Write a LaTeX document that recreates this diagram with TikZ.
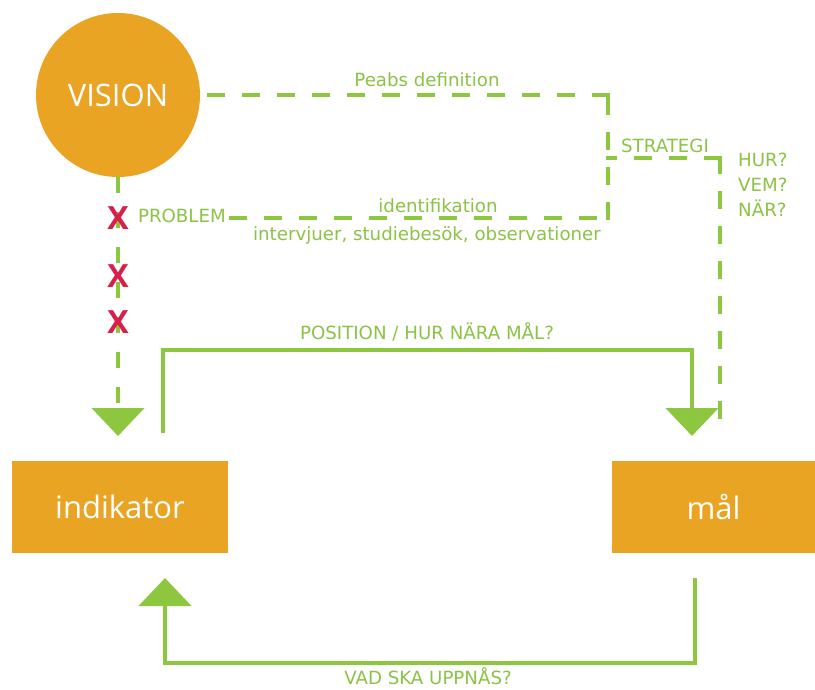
\documentclass[tikz,border=0pt]{standalone}
\usepackage{fontspec}
\setmainfont{DejaVu Sans}
\newfontfamily\boxfont{Open Sans}
\usetikzlibrary{arrows.meta}
\definecolor{vorange}{RGB}{233,164,35}
\definecolor{vgreen}{RGB}{141,198,63}
\definecolor{vtext}{RGB}{140,195,70}
\definecolor{vred}{RGB}{216,31,75}
\begin{document}
\begin{tikzpicture}[x=1pt,y=-1pt,
  bigbox/.style={fill=vorange, draw=none, text=white, font=\boxfont\fontsize{31}{36}\selectfont, inner sep=0pt},
  lbl/.style={text=vtext, font=\fontsize{18.2}{25}\selectfont, inner sep=0pt},
  dashline/.style={draw=vgreen, line width=4.6pt, dash pattern=on 14pt off 21pt, line cap=rect},
  solidline/.style={draw=vgreen, line width=4.6pt},
  bigtip/.style={-{Triangle[width=52pt,length=28pt]}},
  xmark/.style={text=vred, font=\boxfont\bfseries\fontsize{32}{32}\selectfont, inner sep=0pt}
]
\useasboundingbox (0,0) rectangle (815,690);
\fill[white] (0,0) rectangle (815,690);

% main nodes
\node[bigbox, circle, minimum size=164pt] (vision) at (118,95) {VISION};
\node[bigbox, minimum width=216pt, minimum height=92pt] (ind) at (120,507) {indikator};
\node[bigbox, minimum width=203pt, minimum height=92pt] (mal) at (713.5,507) {mål};

% labels
\node[lbl] (peabs) at (427,80) {Peabs definition};
\node[lbl, anchor=east] (problem) at (226,216) {PROBLEM};
\node[lbl] (ident) at (438,206) {identifikation};
\node[lbl] (interv) at (427,235) {intervjuer, studiebesök, observationer};
\node[lbl] (strat) at (665,146) {STRATEGI};
\node[lbl, align=left, anchor=north west] (hur) at (738,153) {HUR?\\VEM?\\NÄR?};
\node[lbl] (pos) at (427,332) {POSITION / HUR NÄRA MÅL?};
\node[lbl] (vad) at (428,676) {VAD SKA UPPNÅS?};

% coordinates
\coordinate (a1) at (608,95);
\coordinate (a2) at (608,218);
\coordinate (pe) at (231,218);
\coordinate (s1) at (608,158);
\coordinate (s2) at (720,158);
\coordinate (s3) at (720,437);
\coordinate (lt) at (118,436);
\coordinate (p1) at (163,433);
\coordinate (p2) at (163,350);
\coordinate (p3) at (692,350);
\coordinate (p4) at (692,436);
\coordinate (q1) at (695,578);
\coordinate (q2) at (695,663);
\coordinate (q3) at (165,663);
\coordinate (q4) at (165,578);

% dashed connectors
\draw[dashline] (a1) -- (vision.east);
\draw[dashline] (a2) -- (a1);
\draw[dashline] (pe) -- (a2);
\draw[dashline] (s2) -- (s1);
\draw[dashline] (s2) -- (s3);
\draw[dashline, line cap=butt, dash pattern=on 16pt off 19pt, bigtip] (vision.south) -- (lt);

% red crosses
\node[xmark] (x1) at (118,218) {X};
\node[xmark] (x2) at (118,276) {X};
\node[xmark] (x3) at (118,322) {X};

% solid connectors
\draw[solidline, bigtip] (p1) -- (p2) -- (p3) -- (p4);
\draw[solidline, bigtip] (q1) -- (q2) -- (q3) -- (q4);
\end{tikzpicture}
\end{document}
